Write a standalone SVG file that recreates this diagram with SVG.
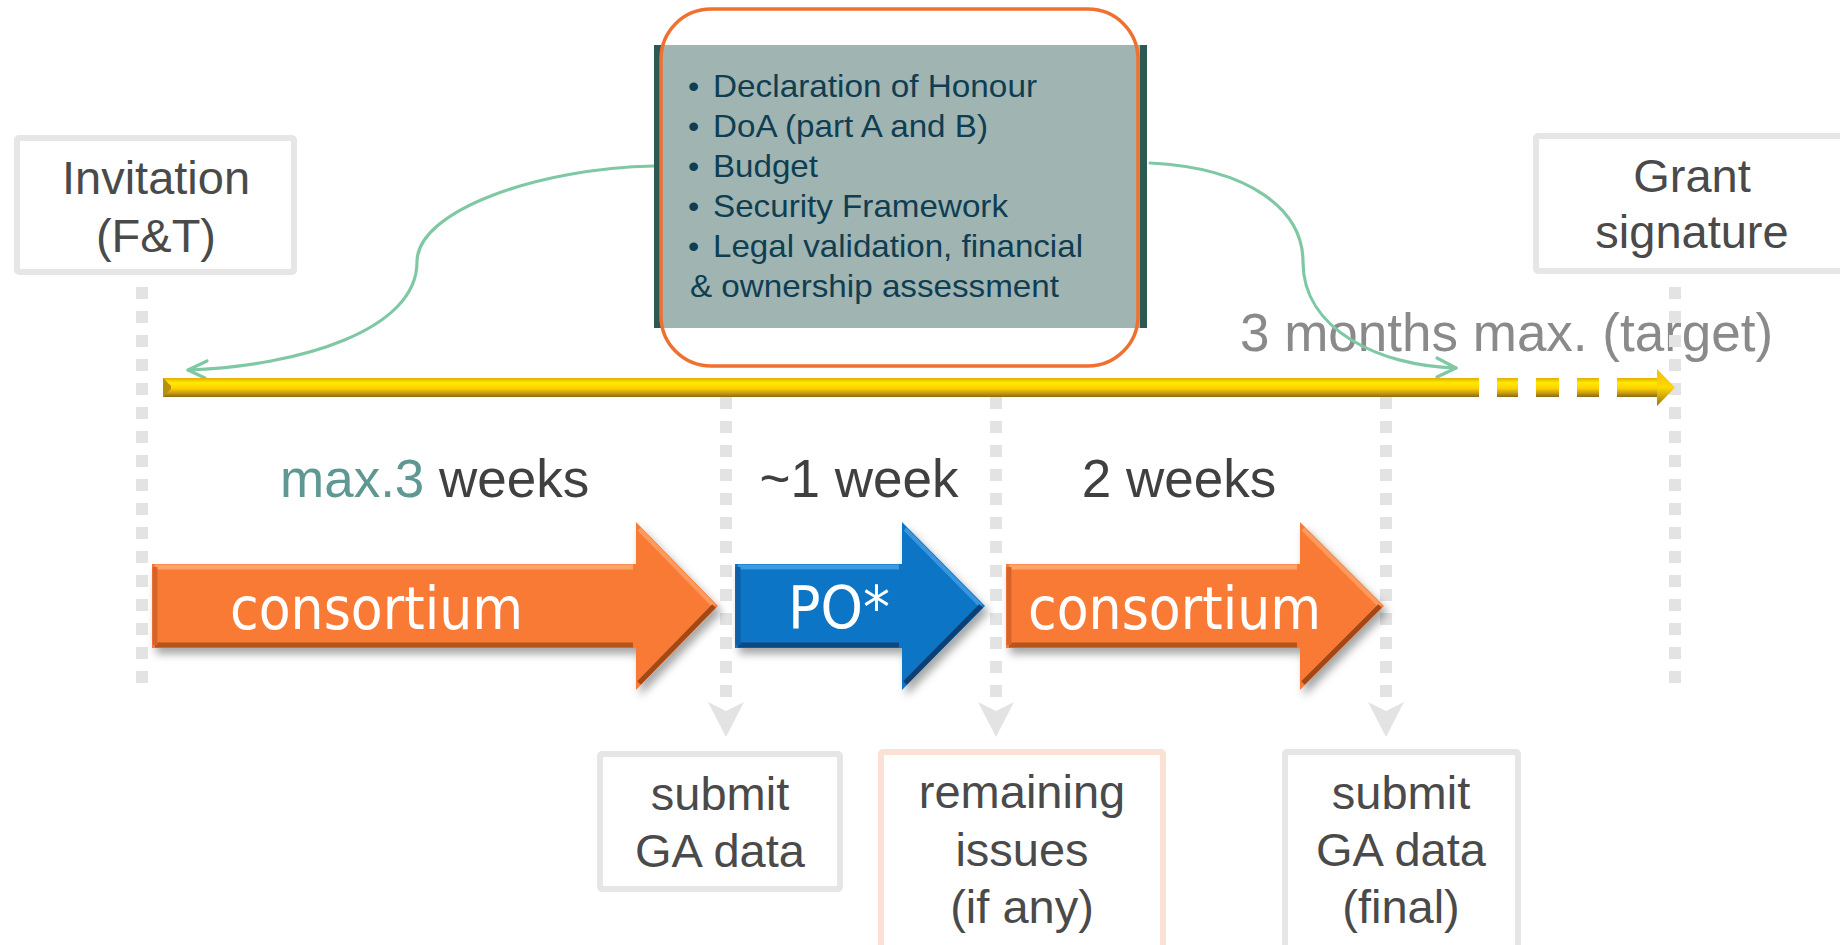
<svg xmlns="http://www.w3.org/2000/svg" width="1840" height="945" viewBox="0 0 1840 945">
<style>
.lbl{font-family:"Liberation Sans",Arial,sans-serif;font-size:53px;fill:#404040}
.box{fill:#ffffff;stroke:#e6e6e6;stroke-width:6}
.bt{font-family:"Liberation Sans",Arial,sans-serif;font-size:47px;fill:#4a4a4a;text-anchor:middle}
.doc{font-family:"Liberation Sans",Arial,sans-serif;font-size:32px;fill:#0f3e52}
.arr{font-family:"DejaVu Sans",Verdana,sans-serif;font-size:58px;fill:#ffffff}
.dot{stroke:#e3e3e3;stroke-width:12;stroke-dasharray:12 12;fill:none}
.dn{fill:#e3e3e3}
.curve{fill:none;stroke:#80c8a4;stroke-width:3.2;stroke-linecap:round;stroke-linejoin:round}
</style>
<defs>
<linearGradient id="gold" x1="0" y1="0" x2="0" y2="1">
<stop offset="0" stop-color="#e2ac00"/>
<stop offset="0.25" stop-color="#ffea00"/>
<stop offset="0.55" stop-color="#ffd000"/>
<stop offset="0.8" stop-color="#c69a12"/>
<stop offset="1" stop-color="#8a6a14"/>
</linearGradient>
<linearGradient id="goldh" x1="0" y1="0" x2="0" y2="1">
<stop offset="0" stop-color="#f0c000"/>
<stop offset="0.5" stop-color="#ffd800"/>
<stop offset="1" stop-color="#9a7410"/>
</linearGradient>
<filter id="sh" x="-10%" y="-20%" width="130%" height="150%">
<feDropShadow dx="4" dy="6" stdDeviation="4" flood-color="#000" flood-opacity="0.35"/>
</filter>
</defs>

<rect width="1840" height="945" fill="#ffffff"/>

<!-- timeline label -->
<text id="label-3months" class="lbl" x="1240" y="351" style="fill:#8a8a8a">3 months max. (target)</text>

<!-- connectors -->
<g id="connectors">
<line class="dot" x1="142" y1="287" x2="142" y2="684"/>
<line class="dot" x1="1675" y1="287" x2="1675" y2="684"/>
<line class="dot" x1="726" y1="397" x2="726" y2="698"/>
<line class="dot" x1="996" y1="397" x2="996" y2="698"/>
<line class="dot" x1="1386" y1="397" x2="1386" y2="698"/>
<path class="dn" d="M708,702 L726,711 L744,702 L726,737 Z"/>
<path class="dn" d="M978,702 L996,711 L1014,702 L996,737 Z"/>
<path class="dn" d="M1368,702 L1386,711 L1404,702 L1386,737 Z"/>
<path class="curve" d="M654,166 C540,168 417,210 417,262 C417,330 300,366 188,370"/>
<path class="curve" d="M207,361 L188,370 L205,378"/>
<path class="curve" d="M1150,163 C1250,168 1303,210 1303,262 C1303,330 1380,366 1456,368"/>
<path class="curve" d="M1437,358 L1456,368 L1437,377"/>
</g>

<!-- timeline bar -->
<g id="timeline">
<rect x="163" y="378" width="1316" height="19" fill="url(#gold)"/>
<polygon points="163,378 171,386 171,389 163,397" fill="#b8900c"/>
<rect x="1497" y="378" width="21" height="19" fill="url(#gold)"/>
<rect x="1536" y="378" width="23" height="19" fill="url(#gold)"/>
<rect x="1577" y="378" width="22" height="19" fill="url(#gold)"/>
<rect x="1617" y="378" width="41" height="19" fill="url(#gold)"/>
<polygon points="1657,369 1675,387.5 1657,406" fill="url(#goldh)"/>
</g>

<!-- documents box -->
<g id="documents">
<rect x="654" y="45" width="493" height="283" fill="#a0b4b2"/>
<rect x="654" y="45" width="7" height="283" fill="#2b5954"/>
<rect x="1140" y="45" width="7" height="283" fill="#2b5954"/>
<text class="doc" x="688" y="97">•</text>
<text class="doc" x="713" y="97" textLength="324" lengthAdjust="spacingAndGlyphs">Declaration of Honour</text>
<text class="doc" x="688" y="137">•</text>
<text class="doc" x="713" y="137" textLength="275" lengthAdjust="spacingAndGlyphs">DoA (part A and B)</text>
<text class="doc" x="688" y="177">•</text>
<text class="doc" x="713" y="177" textLength="105" lengthAdjust="spacingAndGlyphs">Budget</text>
<text class="doc" x="688" y="217">•</text>
<text class="doc" x="713" y="217" textLength="295" lengthAdjust="spacingAndGlyphs">Security Framework</text>
<text class="doc" x="688" y="257">•</text>
<text class="doc" x="713" y="257" textLength="370" lengthAdjust="spacingAndGlyphs">Legal validation, financial</text>
<text class="doc" x="690" y="297" textLength="369" lengthAdjust="spacingAndGlyphs">&amp; ownership assessment</text>
<rect x="661" y="9" width="477" height="357" rx="50" ry="50" fill="none" stroke="#f07030" stroke-width="3.5"/>
</g>

<!-- milestone boxes -->
<g id="invitation">
<rect class="box" x="17" y="138" width="277" height="134" rx="2"/>
<text class="bt" x="156" y="194">Invitation</text>
<text class="bt" x="156" y="252">(F&amp;T)</text>
</g>
<g id="grant">
<rect class="box" x="1536" y="136" width="320" height="135" rx="2"/>
<text class="bt" x="1692" y="192">Grant</text>
<text class="bt" x="1692" y="248">signature</text>
</g>

<!-- duration labels -->
<g id="durations">
<text class="lbl" x="280" y="497"><tspan fill="#5f9893">max.3</tspan> weeks</text>
<text class="lbl" x="859" y="497" text-anchor="middle">~1 week</text>
<text class="lbl" x="1179" y="497" text-anchor="middle">2 weeks</text>
</g>

<!-- phase arrows -->
<g id="arrow-consortium-1" filter="url(#sh)">
<path d="M152,564 L636,564 L636,522 L718,606 L636,690 L636,648 L152,648 Z" fill="#f97a36"/>
<path d="M155,567 L633,567" stroke="#ffa468" stroke-width="5"/>
<path d="M155,645 L633,645" stroke="#b4541e" stroke-width="5"/>
<path d="M155,567 L155,645" stroke="#d8642a" stroke-width="5"/>
<path d="M639,529 L714,606" stroke="#ff9a5c" stroke-width="4"/>
<path d="M714,606 L639,683" stroke="#a24a18" stroke-width="5"/>
<text class="arr" x="230" y="629" textLength="293" lengthAdjust="spacingAndGlyphs">consortium</text>
</g>
<g id="arrow-po" filter="url(#sh)">
<path d="M735,564 L902,564 L902,522 L985,606 L902,690 L902,648 L735,648 Z" fill="#0a74c6"/>
<path d="M738,567 L899,567" stroke="#3e9ae0" stroke-width="5"/>
<path d="M738,645 L899,645" stroke="#0a4a80" stroke-width="5"/>
<path d="M738,567 L738,645" stroke="#0a5fa6" stroke-width="5"/>
<path d="M905,529 L981,606" stroke="#3a94dc" stroke-width="4"/>
<path d="M981,606 L905,683" stroke="#073f70" stroke-width="5"/>
<text class="arr" x="788" y="628" textLength="102" lengthAdjust="spacingAndGlyphs">PO*</text>
</g>
<g id="arrow-consortium-2" filter="url(#sh)">
<path d="M1006,564 L1300,564 L1300,522 L1384,606 L1300,690 L1300,648 L1006,648 Z" fill="#f97a36"/>
<path d="M1009,567 L1297,567" stroke="#ffa468" stroke-width="5"/>
<path d="M1009,645 L1297,645" stroke="#b4541e" stroke-width="5"/>
<path d="M1009,567 L1009,645" stroke="#d8642a" stroke-width="5"/>
<path d="M1303,529 L1380,606" stroke="#ff9a5c" stroke-width="4"/>
<path d="M1380,606 L1303,683" stroke="#a24a18" stroke-width="5"/>
<text class="arr" x="1028" y="629" textLength="293" lengthAdjust="spacingAndGlyphs">consortium</text>
</g>

<!-- outcome boxes -->
<g id="submit-ga-data">
<rect class="box" x="600" y="754" width="240" height="135" rx="2"/>
<text class="bt" x="720" y="810">submit</text>
<text class="bt" x="720" y="867">GA data</text>
</g>
<g id="remaining-issues">
<rect class="box" x="881" y="752" width="282" height="220" rx="2" style="stroke:#fbe1d5"/>
<text class="bt" x="1022" y="808">remaining</text>
<text class="bt" x="1022" y="866">issues</text>
<text class="bt" x="1022" y="923">(if any)</text>
</g>
<g id="submit-ga-data-final">
<rect class="box" x="1285" y="752" width="233" height="220" rx="2"/>
<text class="bt" x="1401" y="809">submit</text>
<text class="bt" x="1401" y="866">GA data</text>
<text class="bt" x="1401" y="923">(final)</text>
</g>
</svg>
